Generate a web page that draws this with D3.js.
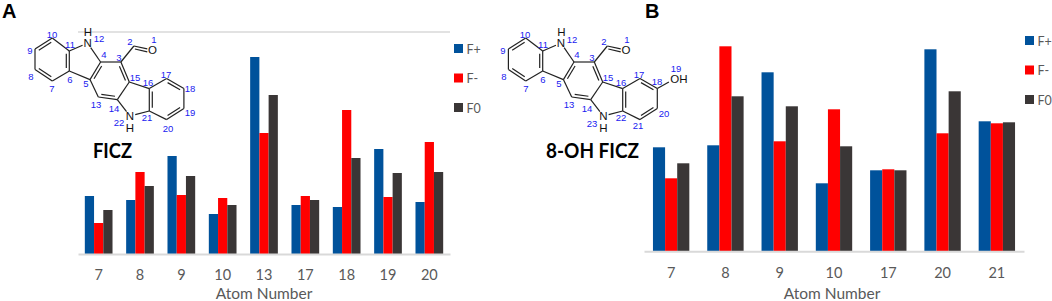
<!DOCTYPE html>
<html>
  <head>
    <meta charset="utf-8">
    <title>FICZ and 8-OH FICZ Fukui functions</title>
    <script src="https://cdn.jsdelivr.net/npm/d3@7"></script>
    <style>
      html, body { margin: 0; padding: 0; background: #fff; }
      svg { display: block; }
      .tick-axis text { font-family: Lato, sans-serif; font-size: 14.5px; fill: #595959; }
      .tick-axis path { stroke: #d9d9d9; stroke-width: 2px; }
      .axis-title { font-family: Lato, sans-serif; font-size: 15.5px; fill: #595959; text-anchor: middle; }
      .legend-text { font-family: Lato, sans-serif; font-size: 12.5px; fill: #595959; }
      .panel-label { font-family: "Liberation Sans", sans-serif; font-size: 20px; font-weight: bold; fill: #000; }
      .mol-name { font-family: Lato, sans-serif; font-size: 21px; font-weight: bold; fill: #000; }
      .bond { stroke: #222; stroke-width: 1.2px; fill: none; }
      .atom-num { font-family: "Liberation Sans", sans-serif; font-size: 9.5px; fill: #2020f0; text-anchor: middle; dominant-baseline: central; }
      .hetero { font-family: "Liberation Sans", sans-serif; font-size: 11.5px; fill: #111; text-anchor: middle; dominant-baseline: central; }
    </style>
  </head>
  <body>
    <script>

      var seriesNames = ["F+", "F-", "F0"];
      var seriesColors = ["#00529b", "#ff0000", "#3a3636"];

      // panel A, FICZ
      var atomsA  = ["7", "8", "9", "10", "13", "17", "18", "19", "20"];
      var fPlusA  = [58, 54, 98, 40, 197, 49, 47, 105, 52];
      var fMinusA = [31, 82, 59, 56, 121, 58, 144, 57, 112];
      var fZeroA  = [44, 68, 78, 49, 159, 54, 96, 81, 82];

      // panel B, 8-OH FICZ
      var atomsB  = ["7", "8", "9", "10", "17", "20", "21"];
      var fPlusB  = [104, 106, 179, 68, 81, 202, 130];
      var fMinusB = [73, 205, 110, 142, 82, 118, 128];
      var fZeroB  = [88, 155, 145, 105, 81, 160, 129];

      var svg = d3.select("body").append("svg")
        .attr("width", 1052)
        .attr("height", 301);

      function drawPanel(cfg) {
        var x = d3.scaleBand()
          .domain(cfg.atoms)
          .range([cfg.left, cfg.right])
          .paddingInner(0.33)
          .paddingOuter(0.165);
        var group = d3.scaleBand()
          .domain(seriesNames)
          .range([0, x.bandwidth()]);
        var y = d3.scaleLinear()
          .domain([0, 222])
          .range([cfg.base, cfg.base - 222]);

        var g = svg.append("g");

        if (cfg.grid) {
          g.append("line")
            .attr("x1", cfg.left).attr("x2", cfg.right)
            .attr("y1", y(222)).attr("y2", y(222))
            .attr("stroke", "#e2e2e2")
            .attr("stroke-width", 2);
        }

        cfg.values.forEach(function(vals, i) {
          g.selectAll(null)
            .data(vals)
            .enter().append("rect")
            .attr("x", function(d, j) { return x(cfg.atoms[j]) + group(seriesNames[i]); })
            .attr("width", group.bandwidth())
            .attr("y", function(d) { return y(d); })
            .attr("height", function(d) { return y(0) - y(d); })
            .attr("fill", seriesColors[i]);
        });

        var axis = d3.axisBottom(x).tickSize(0).tickPadding(cfg.tickPad);
        g.append("g")
          .attr("class", "tick-axis")
          .attr("transform", "translate(0," + cfg.base + ")")
          .call(axis);

        g.append("text")
          .attr("class", "axis-title")
          .attr("x", cfg.titleX)
          .attr("y", 299)
          .text("Atom Number");

        var legend = g.selectAll(".legend")
          .data(seriesNames)
          .enter().append("g")
          .attr("transform", function(d, i) {
            return "translate(" + cfg.legendX + "," + (cfg.legendY + i * 29.5) + ")";
          });
        legend.append("rect")
          .attr("width", 9)
          .attr("height", 9)
          .attr("fill", function(d, i) { return seriesColors[i]; });
        legend.append("text")
          .attr("class", "legend-text")
          .attr("x", 12.5)
          .attr("y", 9.5)
          .text(function(d) { return d; });
      }

      drawPanel({
        atoms: atomsA, values: [fPlusA, fMinusA, fZeroA],
        left: 78, right: 450, base: 254, grid: true, tickPad: 15.5,
        titleX: 264, legendX: 454, legendY: 44
      });
      drawPanel({
        atoms: atomsB, values: [fPlusB, fMinusB, fZeroB],
        left: 644, right: 1024, base: 251.3, grid: false, tickPad: 16,
        titleX: 832, legendX: 1025, legendY: 36
      });

      // skeleton shared by both molecules, in panel A pixels
      var skeleton = {
        c10: [52.3, 38], c9: [35, 49], c8: [35, 69.6], c7: [52.3, 81], c6: [69.3, 71], c11: [69.3, 51],
        n1: [87.6, 43], c4: [100.6, 62], c5: [90, 79.6], c3: [120.9, 62], c15: [129.3, 82], c14: [117.3, 99.6],
        c13: [98.3, 97], c2: [133.9, 46], o: [152.3, 50], c16: [149.3, 88.6], c17: [166.6, 78.6], c18: [183.9, 88.6],
        c19: [183.9, 108.6], c20: [166.6, 119.6], c21: [149.3, 111], n2: [129.9, 116]
      };
      var singleBonds = [["c10","c11"],["c9","c8"],["c7","c6"],["c6","c5"],["c11","n1"],["n1","c4"],["c4","c3"],
        ["c5","c13"],["c3","c2"],["c15","c14"],["c15","c16"],["c14","n2"],["n2","c21"],["c16","c17"],
        ["c18","c19"],["c20","c21"]];
      // [from, to, ring centre the second stroke leans to]
      var doubleBonds = [["c10","c9",[52,60]],["c8","c7",[52,60]],["c6","c11",[52,60]],
        ["c4","c5",[110,80]],["c3","c15",[110,80]],["c14","c13",[110,80]],
        ["c16","c21",[167,99]],["c17","c18",[167,99]],["c19","c20",[167,99]]];

      var labelsA = [["10",52,34],["9",30,50],["8",31,76],["7",52,88],["6",70,79],["11",70,44],["12",99,38],
        ["4",104,54],["5",86,83],["3",119,57],["2",130,41],["1",154,39],["15",135,77],["16",148,82],["17",166,74],
        ["18",190,88],["19",190,112],["20",168,128],["21",147,117],["22",119,122],["14",114,108],["13",96,104]];
      var labelsB = [["10",51.6,34],["9",29.6,50],["8",30.6,76],["7",52.6,88],["6",69.6,79],["11",69.6,44],["12",98.6,39],
        ["4",103.6,54],["5",85.6,83],["3",118.6,57],["2",130.6,41],["1",153.6,39],["15",134.6,77],["16",147.6,82],["17",165.6,74],
        ["18",183.6,81],["19",202.6,68],["20",190.6,113],["21",164.6,125],["22",147.6,117],["23",118.6,123],["14",113.6,108],["13",95.6,104]];

      function drawMolecule(dx, labels, hydroxyl) {
        var m = svg.append("g").attr("transform", "translate(" + dx + ",0)");
        var line = d3.line();

        // trim the ends that run into a hetero atom letter
        function trimmed(a, b) {
          var p = skeleton[a].slice(), q = skeleton[b].slice();
          var len = Math.hypot(q[0] - p[0], q[1] - p[1]);
          var ux = (q[0] - p[0]) / len, uy = (q[1] - p[1]) / len;
          if (a[0] === "n" || a === "o") { p[0] += ux * 5.5; p[1] += uy * 5.5; }
          if (b[0] === "n" || b === "o") { q[0] -= ux * 5.5; q[1] -= uy * 5.5; }
          return [p, q];
        }

        singleBonds.forEach(function(b) {
          m.append("path").attr("class", "bond").attr("d", line(trimmed(b[0], b[1])));
        });

        doubleBonds.forEach(function(b) {
          var p = skeleton[b[0]], q = skeleton[b[1]];
          m.append("path").attr("class", "bond").attr("d", line([p, q]));
          var mx = (p[0] + q[0]) / 2, my = (p[1] + q[1]) / 2;
          var cx = b[2][0] - mx, cy = b[2][1] - my;
          var cl = Math.hypot(cx, cy);
          var ox = cx / cl * 3, oy = cy / cl * 3;
          var inset = 0.14;
          m.append("path").attr("class", "bond").attr("d", line([
            [p[0] + (q[0] - p[0]) * inset + ox, p[1] + (q[1] - p[1]) * inset + oy],
            [q[0] - (q[0] - p[0]) * inset + ox, q[1] - (q[1] - p[1]) * inset + oy]
          ]));
        });

        // aldehyde C=O
        var c2 = skeleton.c2, oAtom = skeleton.o;
        m.append("path").attr("class", "bond").attr("d", line([c2, [oAtom[0] - 5, oAtom[1] - 1.2]]));
        m.append("path").attr("class", "bond").attr("d", line([[c2[0] + 1, c2[1] + 3], [oAtom[0] - 5, oAtom[1] + 1.8]]));

        var hetero = [["N", 87.6, 43], ["H", 88, 32], ["O", 152.5, 50], ["N", 129.9, 116], ["H", 130, 127.5]];
        m.selectAll(".hetero")
          .data(hetero)
          .enter().append("text")
          .attr("class", "hetero")
          .attr("x", function(d) { return d[1]; })
          .attr("y", function(d) { return d[2]; })
          .text(function(d) { return d[0]; });

        if (hydroxyl) {
          m.append("path").attr("class", "bond").attr("d", line([skeleton.c18, [195.5, 82]]));
          m.append("text").attr("class", "hetero")
            .attr("x", 205.5).attr("y", 78.5)
            .text("OH");
        }

        m.selectAll(".atom-num")
          .data(labels)
          .enter().append("text")
          .attr("class", "atom-num")
          .attr("x", function(d) { return d[1]; })
          .attr("y", function(d) { return d[2]; })
          .text(function(d) { return d[0]; });
      }

      drawMolecule(0, labelsA, false);
      drawMolecule(473.4, labelsB, true);

      svg.append("text").attr("class", "panel-label").attr("x", 2).attr("y", 18.2).text("A");
      svg.append("text").attr("class", "panel-label").attr("x", 645).attr("y", 18.2).text("B");
      svg.append("text").attr("class", "mol-name").attr("x", 93).attr("y", 158)
        .attr("textLength", 39).attr("lengthAdjust", "spacingAndGlyphs").text("FICZ");
      svg.append("text").attr("class", "mol-name").attr("x", 546).attr("y", 158)
        .attr("textLength", 93).attr("lengthAdjust", "spacingAndGlyphs").text("8-OH FICZ");

    </script>
  </body>
</html>
